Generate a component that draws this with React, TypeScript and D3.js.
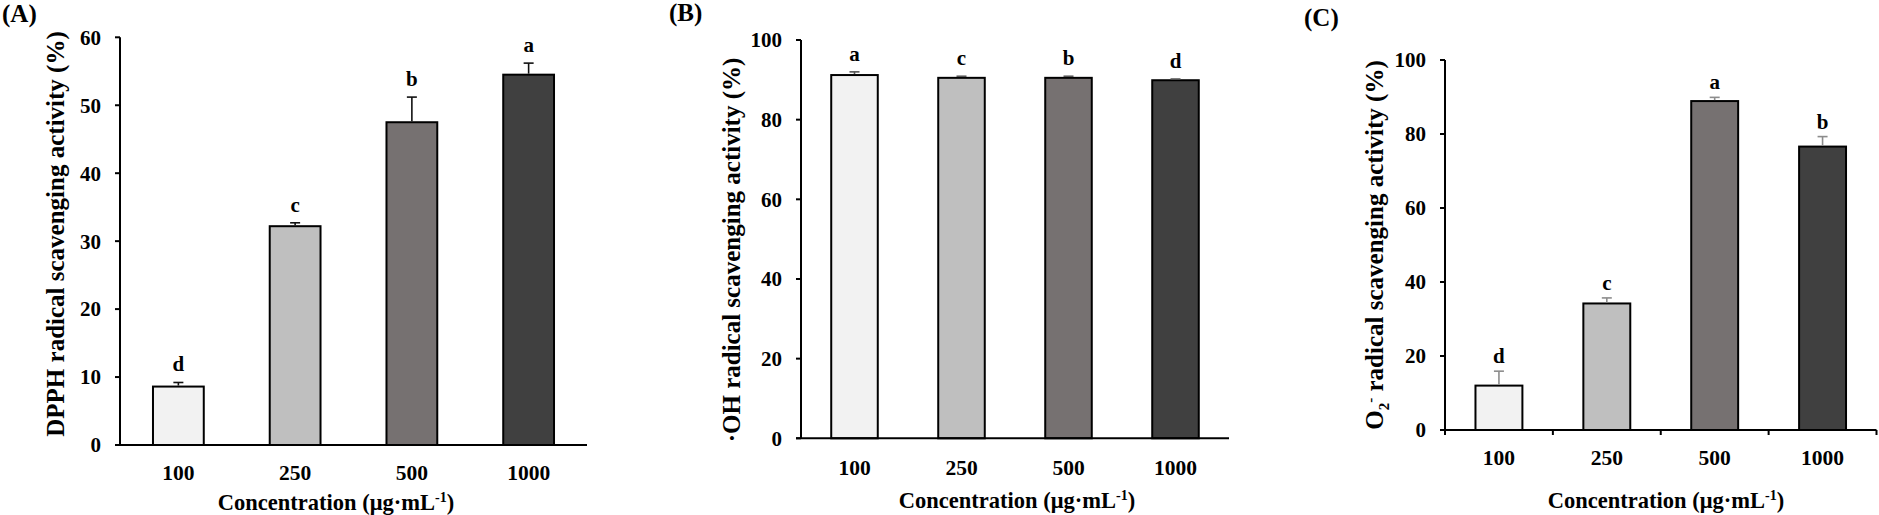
import React from 'react';
import * as d3 from 'd3';

// concentration groups and per-assay means, SDs and significance letters
const concentrations = ['100', '250', '500', '1000'];

const dpphMean = [8.6, 32.2, 47.5, 54.5];
const dpphErr = [0.6, 0.5, 3.7, 1.7];
const dpphLetters = ['d', 'c', 'b', 'a'];
const dpphTicks = [0, 10, 20, 30, 40, 50, 60];

const ohMean = [91.2, 90.5, 90.5, 89.9];
const ohErr = [0.8, 0.4, 0.4, 0.3];
const ohLetters = ['a', 'c', 'b', 'd'];
const ohTicks = [0, 20, 40, 60, 80, 100];

const o2Mean = [12.0, 34.2, 88.9, 76.6];
const o2Err = [3.9, 1.5, 1.0, 2.7];
const o2Letters = ['d', 'c', 'a', 'b'];
const o2Ticks = [0, 20, 40, 60, 80, 100];

const barColors = ['#f2f2f2', '#bfbfbf', '#767171', '#404040'];

const FONT = '"Liberation Serif", "Times New Roman", serif';

type PanelProps = {
  tag: string
  tagX: number
  tagY: number
  means: number[]
  errs: number[]
  letters: string[]
  ticks: number[]
  left: number
  right: number
  top: number
  bottom: number
  errColor: string
  letterGap: number
  xTickMarks: boolean
  xLabelY: number
  titleX: number
  titleY: number
  yTitleX: number
  yTitleY: number
  yTitle: React.ReactNode
}

const Panel = (p: PanelProps) => {
  const yMax = p.ticks[p.ticks.length - 1]
  const x = d3.scaleBand<string>()
    .domain(concentrations)
    .range([p.left, p.right])
    .paddingInner(0.565)
    .paddingOuter(0.2825)
  const y = d3.scaleLinear().domain([0, yMax]).range([p.bottom, p.top])
  const bw = x.bandwidth()
  const step = x.step()

  return (
    <g fontFamily={FONT} fontWeight="bold" fill="#000">
      <text x={p.tagX} y={p.tagY} fontSize={25}>{p.tag}</text>

      {/* bars */}
      {concentrations.map((c, i) => (
        <rect key={c} x={x(c)} y={y(p.means[i])} width={bw}
          height={y(0) - y(p.means[i])}
          fill={barColors[i]} stroke="#000" strokeWidth={2} />
      ))}

      {/* upper error bars */}
      {concentrations.map((c, i) => {
        const cx = (x(c) as number) + bw / 2
        const yt = y(p.means[i] + p.errs[i])
        return (
          <g key={c} stroke={p.errColor} strokeWidth={1.6}>
            <line x1={cx} x2={cx} y1={y(p.means[i]) - 1} y2={yt} />
            <line x1={cx - 5} x2={cx + 5} y1={yt} y2={yt} />
          </g>
        )
      })}

      {/* significance letters */}
      {concentrations.map((c, i) => (
        <text key={c} x={(x(c) as number) + bw / 2}
          y={y(p.means[i] + p.errs[i]) - p.letterGap}
          textAnchor="middle" fontSize={21}>{p.letters[i]}</text>
      ))}

      {/* y axis */}
      <line x1={p.left} x2={p.left} y1={p.top} y2={p.bottom} stroke="#000" strokeWidth={2} />
      {p.ticks.map(t => (
        <g key={t}>
          <line x1={p.left - 5} x2={p.left} y1={y(t)} y2={y(t)} stroke="#000" strokeWidth={2} />
          <text x={p.left - 19} y={y(t)} dy="0.35em" textAnchor="end" fontSize={21}>{t}</text>
        </g>
      ))}

      {/* x axis */}
      <line x1={p.left - 5} x2={p.right} y1={p.bottom} y2={p.bottom} stroke="#000" strokeWidth={2} />
      {p.xTickMarks && d3.range(concentrations.length + 1).map(k => (
        <line key={k} x1={p.left + k * step} x2={p.left + k * step}
          y1={p.bottom} y2={p.bottom + 5} stroke="#000" strokeWidth={2} />
      ))}
      {concentrations.map(c => (
        <text key={c} x={(x(c) as number) + bw / 2} y={p.xLabelY} dy="0.35em"
          textAnchor="middle" fontSize={21.5}>{c}</text>
      ))}
      <text x={p.titleX} y={p.titleY} dy="0.35em" textAnchor="middle" fontSize={22.5}>
        Concentration (μg·mL<tspan dy="-8" fontSize={14}>-1</tspan><tspan dy="8">)</tspan>
      </text>

      <text transform={`translate(${p.yTitleX},${p.yTitleY}) rotate(-90)`}
        dy="0.35em" textAnchor="middle" fontSize={25}>{p.yTitle}</text>
    </g>
  )
}

export default function App() {
  return (
    <svg width={1879} height={515} style={{position: 'absolute', left: 0, top: 0, background: '#fff'}}>
      <Panel tag="(A)" tagX={2} tagY={22}
        means={dpphMean} errs={dpphErr} letters={dpphLetters} ticks={dpphTicks}
        left={120} right={587} top={37.3} bottom={445}
        errColor="#111" letterGap={11} xTickMarks={false}
        xLabelY={472} titleX={336} titleY={502} yTitleX={55} yTitleY={234}
        yTitle="DPPH radical scavenging activity (%)" />
      <Panel tag="(B)" tagX={669} tagY={21}
        means={ohMean} errs={ohErr} letters={ohLetters} ticks={ohTicks}
        left={801} right={1229} top={40} bottom={438.3}
        errColor="#555" letterGap={11} xTickMarks={false}
        xLabelY={467} titleX={1017} titleY={500} yTitleX={731} yTitleY={250}
        yTitle="·OH radical scavenging activity (%)" />
      <Panel tag="(C)" tagX={1304} tagY={26}
        means={o2Mean} errs={o2Err} letters={o2Letters} ticks={o2Ticks}
        left={1445} right={1876.5} top={60} bottom={430}
        errColor="#8c8c8c" letterGap={8} xTickMarks={true}
        xLabelY={457} titleX={1666} titleY={500} yTitleX={1374} yTitleY={245}
        yTitle={<>O<tspan dy="6" fontSize={15}>2</tspan><tspan dy="-14" fontSize={15}>-</tspan><tspan dy="8"> radical scavenging activity (%)</tspan></>} />
    </svg>
  )
}
